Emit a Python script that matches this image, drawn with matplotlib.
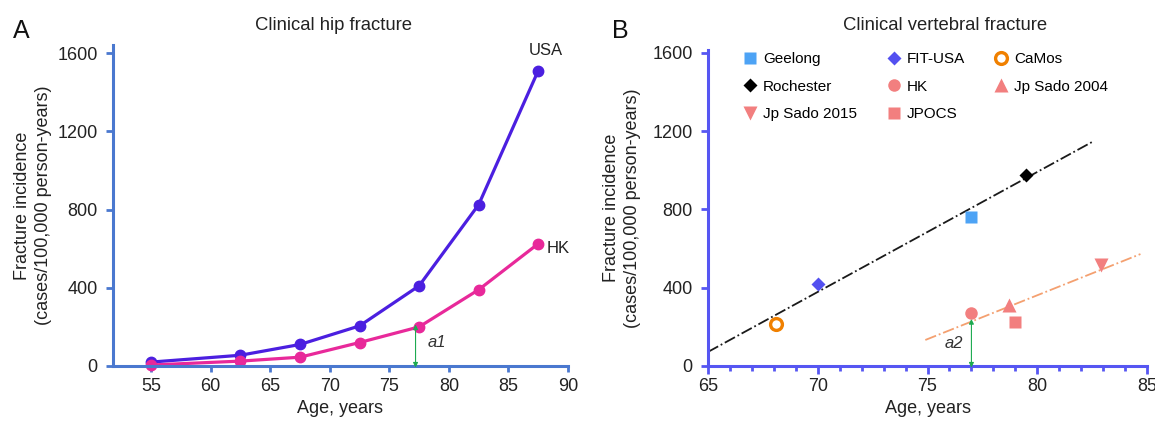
import matplotlib.pyplot as plt
from matplotlib.ticker import MultipleLocator

plt.rcParams['font.family'] = ['Liberation Sans', 'DejaVu Sans']

# panel A: clinical hip fracture
hip_age = [55, 62.5, 67.5, 72.5, 77.5, 82.5, 87.5]
hip_usa = [20, 55, 110, 205, 410, 825, 1510]
hip_hk = [5, 25, 45, 120, 200, 390, 625]

# panel B: clinical vertebral fracture (legend is filled column by column)
vert_names = ['Geelong', 'Rochester', 'Jp Sado 2015', 'FIT-USA', 'HK', 'JPOCS',
              'CaMos', 'Jp Sado 2004']
vert_age = [77, 79.5, 82.9, 70, 77, 79, 68.1, 78.7]
vert_inc = [760, 975, 516, 420, 271, 225, 215, 312]
vert_marker = ['s', 'D', 'v', 'D', 'o', 's', 'o', '^']
vert_size = [9, 7.5, 10, 7.5, 9, 8, 8.5, 10.5]
vert_color = ['#4DA3F5', 'black', '#F27F7F', '#5350F0', '#F27F7F', '#F27F7F',
              '#F08000', '#F27F7F']

west_fit_x = [65, 82.5]
west_fit_y = [72, 1145]
asia_fit_x = [74.9, 84.7]
asia_fit_y = [133, 572]

fig = plt.figure(figsize=(11.55, 4.24), dpi=100)
axA = fig.add_axes([0.0978, 0.1368, 0.394, 0.7571])
axB = fig.add_axes([0.613, 0.1368, 0.3801, 0.7453])


def style_axes(ax, col, lpad):
    for s in ['top', 'right']:
        ax.spines[s].set_visible(False)
    for s in ['left', 'bottom']:
        ax.spines[s].set_color(col)
        ax.spines[s].set_linewidth(2.2)
    ax.tick_params(which='both', colors=col, labelcolor='#222222', labelsize=13,
                   width=2)
    ax.tick_params(axis='y', length=5, pad=6)
    ax.set_yticks([0, 400, 800, 1200, 1600])
    ax.set_xlabel('Age, years', fontsize=13, labelpad=3, color='#222222')
    ax.set_ylabel('Fracture incidence\n(cases/100,000 person-years)', fontsize=13,
                  labelpad=lpad, linespacing=1.3, color='#222222')


# ---- A ----
axA.plot(hip_age, hip_usa, color='#4B1FE0', lw=2.3, marker='o', ms=7.5, clip_on=False)
axA.plot(hip_age, hip_hk, color='#E8299A', lw=2.3, marker='o', ms=7.5, clip_on=False)
axA.set_xlim(51.8, 90)
axA.set_ylim(0, 1641)
axA.set_xticks(range(55, 91, 5))
style_axes(axA, '#4A78CF', 4)
axA.tick_params(axis='x', length=4, pad=5)
axA.annotate('', xy=(77.2, 212), xytext=(77.2, -8),
             arrowprops=dict(arrowstyle='<|-|>', color='#1DAA50', lw=0.8,
                             mutation_scale=7, shrinkA=0, shrinkB=0))
axA.text(78.2, 119, 'a1', fontsize=12, style='italic', color='#333333', va='center')
axA.text(86.7, 1614, 'USA', fontsize=12, color='#222222', va='center')
axA.text(88.2, 603, 'HK', fontsize=12, color='#222222', va='center')
fig.text(0.2887, 0.929, 'Clinical hip fracture', fontsize=13.3, color='#222222',
         ha='center', va='baseline')
fig.text(0.0113, 0.9104, 'A', fontsize=18, color='#111111', va='baseline')

# ---- B ----
axB.plot(west_fit_x, west_fit_y, color='#1A1A1A', lw=1.3, ls='-.')
axB.plot(asia_fit_x, asia_fit_y, color='#F4A070', lw=1.3, ls='-.')
for n, x, y, m, sz, c in zip(vert_names, vert_age, vert_inc, vert_marker,
                             vert_size, vert_color):
    if n == 'CaMos':
        axB.plot(x, y, ls='none', marker=m, ms=sz, mfc='white', mec=c, mew=2.4,
                 label=n)
    else:
        axB.plot(x, y, ls='none', marker=m, ms=sz, color=c, mec='none', label=n)
axB.annotate('', xy=(77, 240), xytext=(77, -8),
             arrowprops=dict(arrowstyle='<|-|>', color='#1DAA50', lw=0.8,
                             mutation_scale=7, shrinkA=0, shrinkB=0))
axB.text(76.6, 114, 'a2', fontsize=12, style='italic', color='#333333',
         va='center', ha='right')
axB.set_xlim(65, 85)
axB.set_ylim(0, 1615)
axB.set_xticks([65, 70, 75, 80, 85])
axB.xaxis.set_minor_locator(MultipleLocator(1))
style_axes(axB, '#5656F2', 8)
axB.tick_params(axis='x', which='major', length=6, pad=3)
axB.tick_params(axis='x', which='minor', length=3.5, width=2)
axB.legend(ncol=3, frameon=False, loc='upper left', bbox_to_anchor=(0.064, 1.012),
           fontsize=11, handletextpad=0.35, columnspacing=1.9, labelspacing=0.88,
           handlelength=1.0, borderaxespad=0)
fig.text(0.8186, 0.929, 'Clinical vertebral fracture', fontsize=13.3,
         color='#222222', ha='center', va='baseline')
fig.text(0.5299, 0.9104, 'B', fontsize=18, color='#111111', va='baseline')

fig.savefig('out.png', dpi=100)
